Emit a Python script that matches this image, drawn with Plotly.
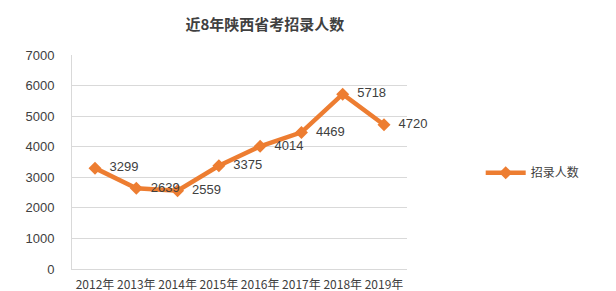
import plotly.graph_objects as go

years = ["2012年", "2013年", "2014年", "2015年", "2016年", "2017年", "2018年", "2019年"]
counts = [3299, 2639, 2559, 3375, 4014, 4469, 5718, 4720]
series_name = "招录人数"
title = "近8年陕西省考招录人数"

fig = go.Figure()
fig.add_trace(go.Scatter(
    x=years, y=counts, name=series_name,
    mode="lines+markers+text",
    line=dict(color="#ED7D31", width=4.5),
    marker=dict(symbol="diamond", size=10, color="#ED7D31"),
    text=["  " + str(v) for v in counts],
    textposition="middle right",
    textfont=dict(family="Liberation Sans, Noto Sans CJK SC", size=13, color="#404040"),
    cliponaxis=False,
))

fig.update_layout(
    width=616, height=291,
    margin=dict(l=72, r=209, t=55, b=22),
    paper_bgcolor="white", plot_bgcolor="white",
    title=dict(text="<b>" + title + "</b>", x=0.43, xanchor="center", y=0.915, yanchor="middle",
               font=dict(family="Noto Sans CJK SC", size=15, color="#404040")),
    showlegend=True,
    legend=dict(x=1.22, y=0.45, xanchor="left", yanchor="middle",
                font=dict(family="Noto Sans CJK SC", size=12, color="#404040"),
                itemwidth=40),
    font=dict(family="Liberation Sans, Noto Sans CJK SC", size=12, color="#404040"),
)
fig.update_xaxes(showgrid=False, showline=True, linecolor="#D9D9D9", ticks="",
                 automargin=False, ticklabelstandoff=5,
                 tickfont=dict(family="Noto Sans CJK SC", size=12, color="#404040"))
fig.update_yaxes(range=[0, 7000], dtick=1000, showgrid=True, gridcolor="#D9D9D9",
                 showline=True, linecolor="#D9D9D9", zeroline=True, zerolinecolor="#D9D9D9",
                 automargin=False, ticklabelstandoff=14,
                 ticks="", ticklen=0, tickfont=dict(size=13, color="#404040"))

fig.write_html("out.html")
